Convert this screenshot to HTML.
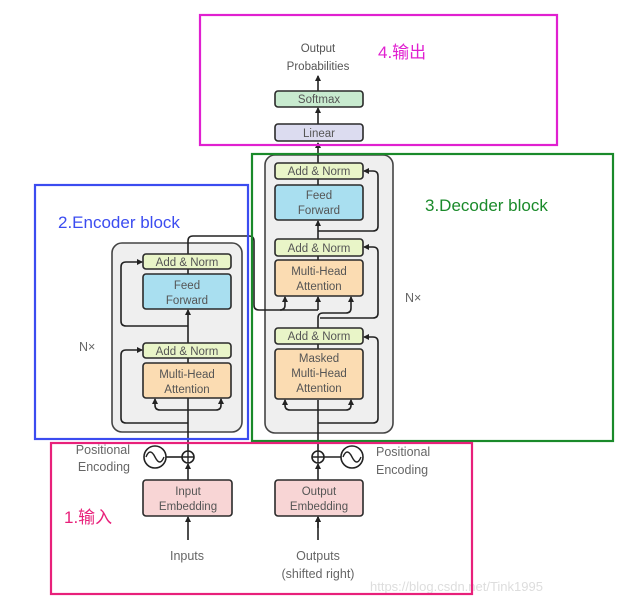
<!DOCTYPE html>
<html><head><meta charset="utf-8"><style>
html,body{margin:0;padding:0;background:#fff;}
svg{display:block;font-family:"Liberation Sans","Noto Sans CJK SC",sans-serif;}
.b{stroke:#2a2a2a;stroke-width:1.6;}
.l{stroke:#222;stroke-width:1.6;fill:none;}
.t{font-size:11.5px;fill:#555;text-anchor:middle;}
.g{font-size:12.5px;fill:#666;}
</style></head><body>
<svg width="637" height="603" viewBox="0 0 637 603">
<defs><marker id="a" markerWidth="6" markerHeight="6" refX="5" refY="3" orient="auto" markerUnits="userSpaceOnUse"><path d="M0,0 L6,3 L0,6z" fill="#222"/></marker></defs>

<!-- gray blocks -->
<rect x="112" y="243" width="130" height="189" rx="10" fill="#efefef" stroke="#444" stroke-width="1.6"/>
<rect x="265" y="155" width="128" height="278" rx="10" fill="#efefef" stroke="#444" stroke-width="1.6"/>

<!-- connectors -->
<g class="l">
<!-- top -->
<line x1="318" y1="163" x2="318" y2="143" marker-end="url(#a)"/>
<line x1="318" y1="124" x2="318" y2="108" marker-end="url(#a)"/>
<line x1="318" y1="91" x2="318" y2="76" marker-end="url(#a)"/>
<!-- encoder main -->
<line x1="188" y1="480" x2="188" y2="464" marker-end="url(#a)"/>
<line x1="188" y1="451" x2="188" y2="398"/>
<line x1="188" y1="363" x2="188" y2="358"/>
<line x1="188" y1="343" x2="188" y2="310" marker-end="url(#a)"/>
<line x1="188" y1="274" x2="188" y2="269"/>
<path d="M188,410 H160 Q155,410 155,405 V399" marker-end="url(#a)"/>
<path d="M188,410 H216 Q221,410 221,405 V399" marker-end="url(#a)"/>
<path d="M188,423 H126 Q121,423 121,418 V355 Q121,350 126,350 H142" marker-end="url(#a)"/>
<path d="M188,326 H126 Q121,326 121,321 V267 Q121,262 126,262 H142" marker-end="url(#a)"/>
<path d="M188,254 V241 Q188,236 193,236 H249 Q254,236 254,241 V305 Q254,310 259,310 H318"/>
<path d="M280,310 Q285,310 285,305 V297" marker-end="url(#a)"/>
<line x1="318" y1="310" x2="318" y2="297" marker-end="url(#a)"/>
<!-- decoder main -->
<line x1="318" y1="528" x2="318" y2="517" marker-end="url(#a)"/>
<line x1="318" y1="480" x2="318" y2="464" marker-end="url(#a)"/>
<line x1="318" y1="451" x2="318" y2="400"/>
<path d="M318,410 H290 Q285,410 285,405 V400" marker-end="url(#a)"/>
<path d="M318,410 H346 Q351,410 351,405 V400" marker-end="url(#a)"/>
<path d="M318,423 H373 Q378,423 378,418 V342 Q378,337 373,337 H364" marker-end="url(#a)"/>
<line x1="318" y1="349" x2="318" y2="344"/>
<path d="M318,328 V318 Q318,313 323,313 H346 Q351,313 351,308 V297" marker-end="url(#a)"/>
<path d="M320,318 H373 Q378,318 378,313 V252 Q378,247 373,247 H364" marker-end="url(#a)"/>
<line x1="318" y1="260" x2="318" y2="256"/>
<line x1="318" y1="239" x2="318" y2="221" marker-end="url(#a)"/>
<path d="M318,231 H373 Q378,231 378,226 V176 Q378,171 373,171 H364" marker-end="url(#a)"/>
<line x1="318" y1="185" x2="318" y2="179"/>
<line x1="188" y1="540" x2="188" y2="517" marker-end="url(#a)"/>
<line x1="318" y1="540" x2="318" y2="517" marker-end="url(#a)"/>
<!-- positional -->
<line x1="166" y1="457" x2="182" y2="457"/>
<line x1="324" y1="457" x2="341" y2="457"/>
</g>
<g fill="#fff" stroke="#222" stroke-width="1.6">
<circle cx="188" cy="457" r="6"/><circle cx="318" cy="457" r="6"/>
<circle cx="155" cy="457" r="11"/><circle cx="352" cy="457" r="11"/>
</g>
<g stroke="#222" stroke-width="1.4" fill="none">
<path d="M182,457H194M188,451V463M312,457H324M318,451V463"/>
<path d="M146,457 Q150,447 155,457 T164,457"/>
<path d="M343,457 Q347,447 352,457 T361,457"/>
</g>

<!-- boxes -->
<g class="b">
<rect x="275" y="91" width="88" height="16" rx="3" fill="#c8ebcf"/>
<rect x="275" y="124" width="88" height="17" rx="3" fill="#dcdcf0"/>
<rect x="143" y="254" width="88" height="15" rx="3" fill="#e9f5c8"/>
<rect x="143" y="274" width="88" height="35" rx="3" fill="#a9dff0"/>
<rect x="143" y="343" width="88" height="15" rx="3" fill="#e9f5c8"/>
<rect x="143" y="363" width="88" height="35" rx="3" fill="#fbdcb2"/>
<rect x="275" y="163" width="88" height="16" rx="3" fill="#e9f5c8"/>
<rect x="275" y="185" width="88" height="35" rx="3" fill="#a9dff0"/>
<rect x="275" y="239" width="88" height="17" rx="3" fill="#e9f5c8"/>
<rect x="275" y="260" width="88" height="36" rx="3" fill="#fbdcb2"/>
<rect x="275" y="328" width="88" height="16" rx="3" fill="#e9f5c8"/>
<rect x="275" y="349" width="88" height="50" rx="3" fill="#fbdcb2"/>
<rect x="143" y="480" width="89" height="36" rx="3" fill="#f8d5d5"/>
<rect x="275" y="480" width="88" height="36" rx="3" fill="#f8d5d5"/>
</g>

<g class="t">
<text x="318" y="52">Output</text><text x="318" y="70">Probabilities</text>
<text x="319" y="103">Softmax</text>
<text x="319" y="137">Linear</text>
<text x="187" y="266">Add &amp; Norm</text>
<text x="187" y="289">Feed</text><text x="187" y="304">Forward</text>
<text x="187" y="355">Add &amp; Norm</text>
<text x="187" y="378">Multi-Head</text><text x="187" y="393">Attention</text>
<text x="319" y="175">Add &amp; Norm</text>
<text x="319" y="199">Feed</text><text x="319" y="214">Forward</text>
<text x="319" y="252">Add &amp; Norm</text>
<text x="319" y="275">Multi-Head</text><text x="319" y="290">Attention</text>
<text x="319" y="340">Add &amp; Norm</text>
<text x="319" y="362">Masked</text><text x="319" y="377">Multi-Head</text><text x="319" y="392">Attention</text>
<text x="188" y="495">Input</text><text x="188" y="510">Embedding</text>
<text x="319" y="495">Output</text><text x="319" y="510">Embedding</text>
</g>
<g class="g">
<text x="187" y="560" text-anchor="middle">Inputs</text>
<text x="318" y="560" text-anchor="middle">Outputs</text>
<text x="318" y="578" text-anchor="middle">(shifted right)</text>
<text x="130" y="454" text-anchor="end">Positional</text>
<text x="130" y="471" text-anchor="end">Encoding</text>
<text x="376" y="456">Positional</text>
<text x="376" y="474">Encoding</text>
<text x="79" y="351">N×</text>
<text x="405" y="302">N×</text>
</g>
<text x="370" y="591" font-size="13" fill="#ddd">https://blog.csdn.net/Tink1995</text>

<!-- annotation frames -->
<g fill="none" stroke-width="2.2">
<rect x="200" y="15" width="357" height="130" stroke="#e020d0"/>
<rect x="35" y="185" width="213" height="254" stroke="#3b4cf0"/>
<rect x="252" y="154" width="361" height="287" stroke="#1a8a2a"/>
<rect x="51" y="443" width="421" height="151" stroke="#e8207a"/>
</g>
<text x="378" y="58" font-size="17" fill="#e020d0">4.输出</text>
<text x="58" y="228" font-size="17" fill="#3b4cf0">2.Encoder block</text>
<text x="425" y="211" font-size="17" fill="#1a8a2a">3.Decoder block</text>
<text x="64" y="523" font-size="17" fill="#e8207a">1.输入</text>
</svg>
</body></html>
